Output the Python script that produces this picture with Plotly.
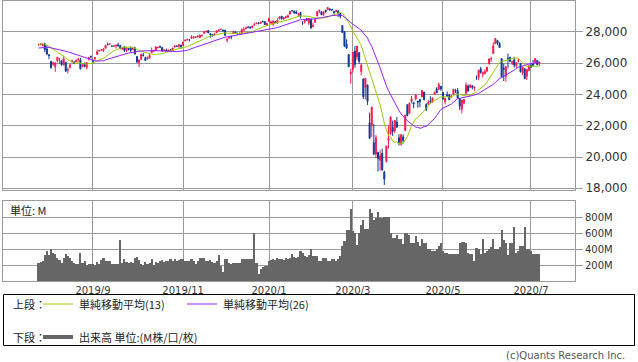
import plotly.graph_objects as go
import pandas as pd

# ---------------- data ----------------
trade_days = {
    "2019-07": [26, 29, 30, 31],
    "2019-08": [1, 2, 5, 6, 7, 8, 9, 12, 13, 14, 15, 16, 19, 20, 21, 22, 23, 26, 27, 28, 29, 30],
    "2019-09": [3, 4, 5, 6, 9, 10, 11, 12, 13, 16, 17, 18, 19, 20, 23, 24, 25, 26, 27, 30],
    "2019-10": [1, 2, 3, 4, 7, 8, 9, 10, 11, 14, 15, 16, 17, 18, 21, 22, 23, 24, 25, 28, 29, 30, 31],
    "2019-11": [1, 4, 5, 6, 7, 8, 11, 12, 13, 14, 15, 18, 19, 20, 21, 22, 25, 26, 27, 29],
    "2019-12": [2, 3, 4, 5, 6, 9, 10, 11, 12, 13, 16, 17, 18, 19, 20, 23, 24, 26, 27, 30, 31],
    "2020-01": [2, 3, 6, 7, 8, 9, 10, 13, 14, 15, 16, 17, 21, 22, 23, 24, 27, 28, 29, 30, 31],
    "2020-02": [3, 4, 5, 6, 7, 10, 11, 12, 13, 14, 18, 19, 20, 21, 24, 25, 26, 27, 28],
    "2020-03": [2, 3, 4, 5, 6, 9, 10, 11, 12, 13, 16, 17, 18, 19, 20, 23, 24, 25, 26, 27, 30, 31],
    "2020-04": [1, 2, 3, 6, 7, 8, 9, 13, 14, 15, 16, 17, 20, 21, 22, 23, 24, 27, 28, 29, 30],
    "2020-05": [1, 4, 5, 6, 7, 8, 11, 12, 13, 14, 15, 18, 19, 20, 21, 22, 26, 27, 28, 29],
    "2020-06": [1, 2, 3, 4, 5, 8, 9, 10, 11, 12, 15, 16, 17, 18, 19, 22, 23, 24, 25, 26, 29, 30],
    "2020-07": [1, 2, 6, 7, 8],
}
dates = [f"{m}-{d:02d}" for m, ds in trade_days.items() for d in ds]

open_ = [
    27183, 27174, 27134, 27226,
    26903, 26533, 26119, 25934, 25758, 26148, 26260, 26157, 25893, 26057, 25561, 25708, 26090, 26071, 26078, 26248, 26219, 25766, 26003, 25718, 26210, 26440,
    26178, 26276, 26554, 26769, 26833, 26783, 26947, 27193, 27210, 27080, 27077, 27116, 27166, 27118, 26891, 27035, 26799, 26951, 26945, 26868,
    26962, 26424, 26039, 26235, 26514, 26346, 26275, 26322, 26657, 26765, 26808, 26996, 27065, 26989, 26827, 26847, 26766, 26866, 26787, 27024, 27072, 27089, 27159,
    27131, 27414, 27492, 27493, 27579, 27632, 27629, 27691, 27624, 27763, 27900, 27998, 28076, 27868, 27840, 27812, 27940, 28078, 28145, 28120,
    28109, 27463, 27587, 27709, 27883, 27979, 27900, 27896, 27898, 28123, 28191, 28283, 28285, 28263, 28419, 28514, 28573, 28539, 28675, 28654, 28415,
    28639, 28553, 28465, 28639, 28556, 28851, 29000, 28824, 28895, 28926, 29126, 29349, 29301, 29263, 29133, 29227, 28543, 28630, 28820, 28557, 28813,
    28320, 28611, 29007, 29317, 29287, 29061, 29373, 29405, 29463, 29442, 29297, 29279, 29350, 29168, 28403, 28023, 27197, 26554, 25320,
    25590, 26762, 26383, 26671, 25457, 24992, 24453, 24605, 22184, 21974, 20917, 20189, 20300, 19791, 20239, 19029, 19722, 21051, 21468, 21898, 21678, 22241,
    21228, 20819, 21285, 21693, 23335, 22811, 23544, 23477, 23702, 23573, 23678, 23834, 24157, 23357, 23367, 23575, 23535, 23991, 24339, 24310, 24522,
    24120, 23550, 23967, 23947, 23849, 24016, 24241, 24245, 23734, 23048, 23436, 24052, 24535, 24430, 24549, 24413, 24998, 25083, 25622, 25292,
    25343, 25493, 25936, 26275, 26603, 27232, 27447, 27251, 26283, 25659, 25142, 26326, 26375, 26016, 26213, 25826, 26115, 25985, 25383, 25642, 25152, 25512,
    25879, 25943, 26029, 26167, 25976,
]
high = [
    27228, 27251, 27200, 27300,
    27130, 26564, 26119, 26079, 26057, 26383, 26324, 26187, 26470, 26057, 25716, 25944, 26218, 26114, 26215, 26344, 26327, 25924, 26004, 26066, 26399, 26473,
    26215, 26363, 26860, 26857, 26910, 26909, 27145, 27306, 27266, 27125, 27121, 27167, 27306, 27171, 27018, 27079, 27012, 26958, 27050, 26999,
    27047, 26424, 26223, 26584, 26651, 26416, 26421, 26658, 27002, 26827, 27094, 27036, 27120, 27039, 26871, 26927, 26834, 26893, 26980, 27136, 27150, 27212, 27159,
    27348, 27514, 27575, 27524, 27775, 27689, 27692, 27804, 27822, 27812, 28005, 28053, 28090, 27928, 27840, 27884, 28090, 28144, 28174, 28120,
    28109, 27598, 27701, 27714, 28061, 28029, 27949, 27959, 28224, 28290, 28337, 28376, 28349, 28377, 28582, 28582, 28576, 28621, 28701, 28664, 28547,
    28872, 28716, 28708, 28685, 28866, 28958, 29009, 28907, 29019, 29101, 29298, 29373, 29373, 29373, 29182, 29268, 28690, 28776, 28892, 28880, 28813,
    28592, 28897, 29292, 29380, 29287, 29277, 29416, 29568, 29499, 29443, 29348, 29407, 29370, 29168, 28403, 28038, 27522, 26561, 25611,
    26706, 27084, 27091, 26671, 25994, 24992, 25030, 24605, 22838, 23186, 22105, 21395, 20300, 20440, 20531, 19120, 20705, 22019, 22595, 22328, 22378, 22562,
    21452, 21477, 21447, 22680, 23377, 23480, 23896, 23477, 24008, 23573, 23679, 24265, 24157, 23434, 23643, 23887, 23794, 24173, 24461, 24764, 24522,
    24120, 23764, 24190, 24027, 23974, 24341, 24355, 24405, 23774, 23645, 23685, 24765, 24637, 24654, 24607, 24505, 25210, 25548, 25762, 25456,
    25597, 25742, 26271, 26409, 27338, 27580, 27447, 27355, 26283, 25966, 25817, 26611, 26400, 26161, 26402, 26051, 26287, 26010, 25752, 25642, 25600, 25905,
    26001, 26204, 26324, 26167, 26077,
]
low = [
    27101, 27169, 27067, 26717,
    26503, 26249, 25629, 25815, 25440, 26048, 25960, 25829, 25855, 25474, 25340, 25706, 26067, 25955, 26062, 26094, 25598, 25763, 25734, 25609, 26210, 26301,
    25978, 26214, 26554, 26755, 26760, 26706, 26947, 27135, 27178, 27040, 27037, 26929, 27081, 26882, 26860, 26709, 26713, 26800, 26700, 26866,
    26566, 26001, 25743, 26217, 26434, 26159, 26222, 26297, 26657, 26726, 26808, 26937, 26968, 26724, 26776, 26777, 26722, 26744, 26739, 27004, 27054, 26963, 26908,
    27131, 27414, 27458, 27389, 27579, 27548, 27600, 27655, 27613, 27693, 27900, 27968, 27914, 27618, 27679, 27735, 27940, 28040, 28098, 28024,
    27741, 27325, 27582, 27534, 27883, 27909, 27804, 27860, 27859, 28028, 28191, 28263, 28234, 28234, 28419, 28497, 28503, 28535, 28608, 28428, 28376,
    28627, 28500, 28383, 28565, 28502, 28778, 28789, 28767, 28859, 28900, 29126, 29289, 29150, 29158, 28966, 28860, 28440, 28534, 28714, 28446, 28170,
    28320, 28611, 29007, 29203, 29056, 29056, 29233, 29405, 29333, 29331, 29113, 29279, 28946, 28857, 27915, 27032, 26903, 25765, 24681,
    25391, 25706, 26183, 25943, 25226, 23707, 23690, 23328, 21154, 21285, 20116, 19939, 19068, 19121, 19139, 18214, 19649, 20538, 21427, 21348, 21522, 21852,
    20736, 20735, 20863, 21693, 22601, 22751, 23421, 23112, 23613, 23148, 23181, 23834, 23649, 22941, 23367, 23464, 23447, 23991, 24092, 24310, 24232,
    23645, 23361, 23813, 23634, 23781, 24016, 24095, 23764, 22984, 22790, 23363, 24052, 24201, 24430, 24322, 24223, 24961, 24898, 25324, 25079,
    25269, 25411, 25936, 26084, 26603, 27232, 27144, 26987, 25082, 24843, 24821, 25672, 26073, 25880, 25716, 25694, 26041, 25404, 25243, 24972, 24915, 25512,
    25688, 25784, 26029, 25888, 25814,
]
close = [
    27192, 27221, 27198, 26864,
    26583, 26485, 25718, 26030, 26008, 26378, 26287, 25897, 26280, 25479, 25579, 25886, 26136, 25962, 26202, 26252, 25629, 25898, 25778, 26036, 26362, 26403,
    26118, 26356, 26728, 26797, 26835, 26909, 27137, 27182, 27220, 27076, 27111, 27147, 27094, 26935, 26949, 26808, 26970, 26891, 26820, 26917,
    26573, 26079, 26202, 26573, 26478, 26165, 26347, 26497, 26817, 26787, 27025, 27002, 27026, 26770, 26828, 26788, 26834, 26806, 26958, 27091, 27071, 27186, 27046,
    27347, 27462, 27493, 27492, 27675, 27681, 27691, 27691, 27784, 27782, 28005, 28036, 27934, 27821, 27766, 27876, 28066, 28121, 28164, 28051,
    27783, 27503, 27650, 27678, 28015, 27909, 27881, 27911, 28132, 28135, 28235, 28267, 28239, 28377, 28455, 28551, 28515, 28621, 28645, 28462, 28538,
    28868, 28634, 28703, 28583, 28745, 28956, 28824, 28907, 28940, 29030, 29297, 29348, 29196, 29186, 29160, 28990, 28535, 28723, 28734, 28859, 28256,
    28400, 28808, 29290, 29380, 29103, 29276, 29276, 29551, 29423, 29398, 29232, 29348, 29220, 28992, 27961, 27081, 26957, 25766, 25409,
    26703, 25917, 27091, 26121, 25865, 23851, 25018, 23553, 21200, 23186, 20189, 21237, 19899, 20087, 19174, 18592, 20705, 21201, 22552, 21637, 22327, 21917,
    20943, 21413, 21053, 22680, 22654, 23434, 23719, 23390, 23950, 23505, 23538, 24242, 23650, 23019, 23475, 23515, 23775, 24134, 24101, 24634, 24346,
    23724, 23750, 23883, 23664, 23875, 24331, 24222, 23765, 23248, 23625, 23685, 24597, 24207, 24576, 24474, 24465, 24995, 25548, 25401, 25383,
    25475, 25742, 26270, 26282, 27111, 27572, 27272, 26990, 25128, 25606, 25763, 26290, 26120, 26080, 25871, 26025, 26156, 25446, 25745, 25016, 25596, 25813,
    25735, 25827, 26287, 25891, 26067,
]
# closes before the first displayed day (moving-average warm-up)
prior_close = [26504, 26753, 26719, 26727, 26548, 26536, 26526, 26600, 26717, 26787, 26966, 26922, 26806,
               26783, 26860, 27088, 27332, 27359, 27335, 27219, 27223, 27154, 27172, 27350, 27270, 27141]
volume_m = [
    225, 235, 250, 330,
    370, 330, 400, 345, 335, 290, 260, 230, 285, 340, 310, 290, 250, 230, 210, 215, 355, 225, 250, 205, 210, 210,
    215, 205, 235, 210, 260, 290, 255, 250, 245, 215, 210, 215, 215, 510, 230, 280, 240, 225, 240, 230,
    290, 300, 260, 215, 200, 235, 210, 225, 270, 205, 240, 225, 250, 260, 235, 245, 250, 270, 255, 270, 255, 265, 270,
    275, 250, 250, 245, 270, 245, 215, 250, 290, 290, 290, 250, 250, 260, 240, 230, 250, 320, 190, 110,
    270, 275, 220, 215, 220, 220, 220, 225, 270, 270, 270, 280, 275, 280, 595, 225, 85, 150, 180, 190, 190,
    250, 265, 270, 260, 290, 275, 270, 265, 285, 270, 290, 335, 300, 290, 300, 375, 345, 315, 300, 330, 395,
    315, 315, 310, 250, 250, 290, 290, 250, 250, 270, 270, 250, 270, 310, 440, 500, 640, 640, 895,
    620, 600, 445, 600, 700, 760, 650, 650, 895, 850, 765, 786, 864, 790, 790, 800, 800, 800, 600, 540, 540, 570,
    520, 520, 457, 600, 600, 580, 480, 480, 560, 490, 436, 520, 480, 477, 395, 395, 375, 375, 395, 440, 477,
    375, 355, 355, 333, 333, 333, 333, 335, 469, 486, 486, 469, 354, 333, 333, 250, 415, 403, 333, 527,
    354, 370, 395, 430, 527, 395, 395, 430, 642, 518, 477, 321, 477, 477, 675, 354, 375, 436, 436, 675, 395, 403,
    375, 333, 333, 333, 333,
]
month_ticks = ["2019-09", "2019-11", "2020-01", "2020-03", "2020-05", "2020-07"]
price_ticks = [18000, 20000, 22000, 24000, 26000, 28000]
volume_ticks = [200, 400, 600, 800]

n = len(dates)
assert all(len(a) == n for a in (open_, high, low, close, volume_m)), [len(a) for a in (dates, open_, high, low, close, volume_m)]

idx = list(range(n))
full_close = pd.Series(prior_close + close, dtype=float)
ma13 = full_close.rolling(13).mean().iloc[len(prior_close):].tolist()
ma26 = full_close.rolling(26).mean().iloc[len(prior_close):].tolist()

tick_idx = [next(i for i, d in enumerate(dates) if d.startswith(m)) for m in month_ticks]
tick_txt = [f"{int(m[:4])}/{int(m[5:])}" for m in month_ticks]

# ---------------- style ----------------
W, H = 638, 362
RED, BLUE = "#ff1a4d", "#0d3a96"
GREEN, PURPLE = "#99cc00", "#9a1cff"
GRID = "#9a9a9a"
JP = "Noto Sans CJK JP"
NUM = "DejaVu Sans"


def px(x):
    return x / W


def py(y):
    return 1 - y / H


x_range = [-16.94, 256.0]

fig = go.Figure()
fig.add_trace(go.Candlestick(
    x=idx, open=open_, high=high, low=low, close=close,
    increasing=dict(line=dict(color=RED, width=1), fillcolor=RED),
    decreasing=dict(line=dict(color=BLUE, width=1), fillcolor=BLUE),
    whiskerwidth=0, xaxis="x", yaxis="y", hoverinfo="skip"))
fig.add_trace(go.Scatter(x=idx, y=ma13, mode="lines", line=dict(color=GREEN, width=1),
                         xaxis="x", yaxis="y", hoverinfo="skip"))
fig.add_trace(go.Scatter(x=idx, y=ma26, mode="lines", line=dict(color=PURPLE, width=1),
                         xaxis="x", yaxis="y", hoverinfo="skip"))
fig.add_trace(go.Bar(x=idx, y=volume_m, marker=dict(color="#666666", line=dict(width=0)),
                     xaxis="x2", yaxis="y2", hoverinfo="skip"))

axis_common = dict(showgrid=True, gridcolor=GRID, gridwidth=1, showline=True, mirror=True,
                   linecolor=GRID, linewidth=1, zeroline=False, automargin=False)

fig.update_layout(
    width=W, height=H, margin=dict(l=0, r=0, t=0, b=0, pad=0),
    paper_bgcolor="white", plot_bgcolor="white", showlegend=False, bargap=0,
    xaxis=dict(domain=[px(3), px(575)], range=x_range, anchor="y", tickvals=tick_idx,
               showticklabels=False, ticks="", rangeslider=dict(visible=False), **axis_common),
    yaxis=dict(domain=[py(190), py(0.5)], range=[17891, 30000], anchor="x", side="right",
               tickvals=price_ticks, ticktext=[f"{v:,}" for v in price_ticks],
               ticks="outside", ticklen=7, tickcolor=GRID,
               tickfont=dict(family=NUM, size=12, color="#333333"), **axis_common),
    xaxis2=dict(domain=[px(3), px(575)], range=x_range, anchor="y2", tickvals=tick_idx,
                ticktext=tick_txt, ticks="",
                tickfont=dict(family=NUM, size=10, color="#333333"), **axis_common),
    yaxis2=dict(domain=[py(281), py(201)], range=[0, 1000], anchor="x2", side="right",
                tickvals=volume_ticks, ticktext=[f"{v}M" for v in volume_ticks],
                ticks="outside", ticklen=7, tickcolor=GRID,
                tickfont=dict(family=NUM, size=10, color="#333333"), **axis_common),
)

anns = [
    dict(text="単位: M", x=px(8), y=py(210), xanchor="left", yanchor="middle",
         font=dict(family=JP, size=11, color="#222222")),
    dict(text="上段：", x=px(11), y=py(304), xanchor="left", yanchor="middle",
         font=dict(family=JP, size=11, color="#222222")),
    dict(text="単純移動平均(13)", x=px(77), y=py(304), xanchor="left", yanchor="middle",
         font=dict(family=JP, size=11, color="#222222")),
    dict(text="単純移動平均(26)", x=px(221), y=py(304), xanchor="left", yanchor="middle",
         font=dict(family=JP, size=11, color="#222222")),
    dict(text="下段：", x=px(11), y=py(337), xanchor="left", yanchor="middle",
         font=dict(family=JP, size=11, color="#222222")),
    dict(text="出来高 単位:(M株/口/枚)", x=px(77), y=py(337), xanchor="left", yanchor="middle",
         font=dict(family=JP, size=11, color="#222222")),
    dict(text="(c)Quants Research Inc.", x=px(627), y=py(355), xanchor="right", yanchor="middle",
         font=dict(family="DejaVu Sans", size=10, color="#555555")),
]
for a in anns:
    a.update(xref="paper", yref="paper", showarrow=False)
fig.update_layout(annotations=anns)

shapes = [
    dict(type="rect", x0=px(3.5), x1=px(634.5), y0=py(345.5), y1=py(294.5),
         line=dict(color="#000000", width=1), fillcolor="rgba(0,0,0,0)"),
    dict(type="line", x0=px(43), x1=px(73), y0=py(304), y1=py(304), line=dict(color=GREEN, width=1)),
    dict(type="line", x0=px(187), x1=px(217), y0=py(304), y1=py(304), line=dict(color=PURPLE, width=1)),
    dict(type="line", x0=px(43), x1=px(73), y0=py(337), y1=py(337), line=dict(color="#666666", width=4)),
]
for s in shapes:
    s.update(xref="paper", yref="paper")
fig.update_layout(shapes=shapes)

fig.write_html("out.html", config={"displayModeBar": False, "staticPlot": True},
               post_script="document.body.style.margin='0px';document.body.style.overflow='hidden';")
